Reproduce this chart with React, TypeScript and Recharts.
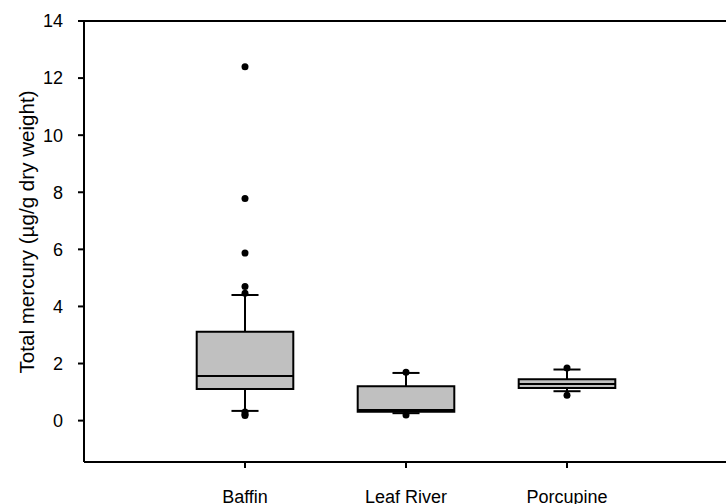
import React from 'react';
import {
  ComposedChart,
  XAxis,
  YAxis,
  Scatter,
  ReferenceArea,
  ReferenceLine,
  Label,
} from 'recharts';

const categories = ['Baffin', 'Leaf River', 'Porcupine'];
const positions = [1, 2, 3];
const q1 = [1.11, 0.31, 1.14];
const medians = [1.56, 0.37, 1.28];
const q3 = [3.11, 1.2, 1.45];
const whiskerLow = [0.34, 0.26, 1.03];
const whiskerHigh = [4.4, 1.67, 1.79];
const baffinOutliers = [12.4, 7.78, 5.87, 4.7, 4.46, 0.3, 0.22, 0.18];
const leafRiverOutliers = [1.69, 0.2];
const porcupineOutliers = [1.84, 0.89];
const yTicks = [0, 2, 4, 6, 8, 10, 12, 14];

const outlierSets = [baffinOutliers, leafRiverOutliers, porcupineOutliers];
const outlierData = outlierSets.flatMap((vals, i) =>
  vals.map((v) => ({ x: positions[i], y: v }))
);

const FONT = '"Liberation Sans", Arial, sans-serif';
const BOX_HALF = 0.3;
const CAP_HALF = 0.084;

export default function App() {
  return (
    <div
      style={{
        position: 'absolute',
        left: 0,
        top: 0,
        width: 726,
        height: 504,
        overflow: 'hidden',
        background: '#fff',
      }}
    >
      <ComposedChart
        width={740}
        height={504}
        data={outlierData}
        margin={{ top: 21, right: 12, bottom: 0, left: 24 }}
      >
        <XAxis
          dataKey="x"
          type="number"
          domain={[0, 4]}
          ticks={positions}
          allowDataOverflow
          height={42}
          tickFormatter={(v: number) => categories[positions.indexOf(v)] ?? ''}
          axisLine={{ stroke: '#000', strokeWidth: 2 }}
          tickLine={{ stroke: '#000', strokeWidth: 2 }}
          tickSize={6}
          tickMargin={22}
          tick={{ fill: '#000', fontSize: 18, fontFamily: FONT }}
        />
        <YAxis
          dataKey="y"
          type="number"
          domain={[-1.45, 14]}
          ticks={yTicks}
          allowDataOverflow
          width={60}
          axisLine={{ stroke: '#000', strokeWidth: 2 }}
          tickLine={{ stroke: '#000', strokeWidth: 2 }}
          tickSize={6}
          tickMargin={15}
          tick={{ fill: '#000', fontSize: 18, fontFamily: FONT }}
        >
          <Label
            content={() => (
              <text
                x={26}
                y={232}
                transform="rotate(-90 26 232)"
                textAnchor="middle"
                dominantBaseline="central"
                fontSize={20.6}
                fontFamily={FONT}
                fill="#000"
              >
                Total mercury (µg/g dry weight)
              </text>
            )}
          />
        </YAxis>
        <ReferenceLine y={14} stroke="#000" strokeWidth={2} />
        <ReferenceLine x={4} stroke="#000" strokeWidth={2} />
        {positions.map((p, i) => (
          <ReferenceLine
            key={`wu${i}`}
            segment={[
              { x: p, y: q3[i] },
              { x: p, y: whiskerHigh[i] },
            ]}
            stroke="#000"
            strokeWidth={2}
          />
        ))}
        {positions.map((p, i) => (
          <ReferenceLine
            key={`wl${i}`}
            segment={[
              { x: p, y: q1[i] },
              { x: p, y: whiskerLow[i] },
            ]}
            stroke="#000"
            strokeWidth={2}
          />
        ))}
        {positions.map((p, i) => (
          <ReferenceLine
            key={`cu${i}`}
            segment={[
              { x: p - CAP_HALF, y: whiskerHigh[i] },
              { x: p + CAP_HALF, y: whiskerHigh[i] },
            ]}
            stroke="#000"
            strokeWidth={2}
          />
        ))}
        {positions.map((p, i) => (
          <ReferenceLine
            key={`cl${i}`}
            segment={[
              { x: p - CAP_HALF, y: whiskerLow[i] },
              { x: p + CAP_HALF, y: whiskerLow[i] },
            ]}
            stroke="#000"
            strokeWidth={2}
          />
        ))}
        {positions.map((p, i) => (
          <ReferenceArea
            key={`box${i}`}
            x1={p - BOX_HALF}
            x2={p + BOX_HALF}
            y1={q1[i]}
            y2={q3[i]}
            fill="#c0c0c0"
            fillOpacity={1}
            stroke="#000"
            strokeWidth={2}
          />
        ))}
        {positions.map((p, i) => (
          <ReferenceLine
            key={`med${i}`}
            segment={[
              { x: p - BOX_HALF, y: medians[i] },
              { x: p + BOX_HALF, y: medians[i] },
            ]}
            stroke="#000"
            strokeWidth={2}
          />
        ))}
        <Scatter
          dataKey="y"
          isAnimationActive={false}
          shape={(props: any) => (
            <circle cx={props.cx} cy={props.cy} r={3.5} fill="#000" />
          )}
        />
      </ComposedChart>
    </div>
  );
}
